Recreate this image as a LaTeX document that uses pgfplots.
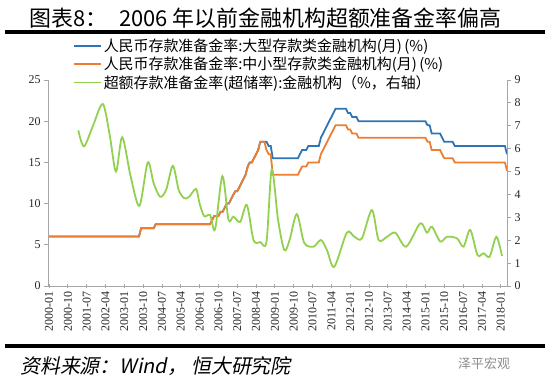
\documentclass[border=0pt]{standalone}
\usepackage{fontspec}
\setmainfont{Liberation Serif}
\newfontfamily\cjk{Noto Sans CJK SC}
\newfontfamily\cjkit[FakeSlant=0.2]{Noto Sans CJK SC}
\usepackage{pgfplots}
\pgfplotsset{compat=1.18}
\definecolor{cblue}{RGB}{46,117,182}
\definecolor{corange}{RGB}{237,125,49}
\definecolor{cgreen}{RGB}{146,208,80}
\definecolor{axgray}{RGB}{166,166,166}
\pgfplotsset{
  common/.style={
    at={(48bp,97bp)}, anchor=south west, scale only axis,
    width=459bp, height=206bp, xmin=-0.5, xmax=219,
    /pgf/number format/assume math mode=true,
    axis line style={axgray, line width=0.8pt},
    tick style={axgray, line width=0.8pt},
    major tick length=4bp,
    ticklabel style={font=\fontsize{12}{12}\selectfont, text=black!85},
  }
}
\begin{document}
\begin{tikzpicture}
\useasboundingbox (0,0) rectangle (550bp,383bp);
\fill (5bp,348.5bp) rectangle (545bp,352.5bp);
\fill (5bp,35bp) rectangle (545bp,39bp);
\node[anchor=base west, inner sep=0] at (29bp,356bp) {\cjk\fontsize{22}{22}\selectfont 图表8：\hspace{12bp}2006 年以前金融机构超额准备金率偏高};
\node[anchor=west, inner sep=0] at (20bp,17bp) {\cjkit\fontsize{20}{20}\selectfont 资料来源：Wind，\hspace{4bp}恒大研究院};
\node[anchor=west, inner sep=0, text=black!45] at (458bp,19bp) {\cjk\fontsize{13}{13}\selectfont 泽平宏观};

\begin{axis}[common,
  ymin=0, ymax=25,
  axis x line*=bottom, axis y line*=left,
  ytick={0,5,...,25},
  xtick={0,9,...,216},
  xticklabels={2000-01,2000-10,2001-07,2002-04,2003-01,2003-10,2004-07,2005-04,2006-01,2006-10,2007-07,2008-04,2009-01,2009-10,2010-07,2011-04,2012-01,2012-10,2013-07,2014-04,2015-01,2015-10,2016-07,2017-04,2018-01},
  xtick align=center, ytick align=outside,
  x tick label style={rotate=90, anchor=east},
  legend style={at={(0.054,1.21)}, anchor=north west, draw=none, fill=none,
    font=\cjk\fontsize{15}{18}\selectfont, cells={anchor=west}, inner sep=0pt, row sep=0pt},
  legend image code/.code={\draw[#1] (0bp,0bp) -- (27bp,0bp);},
]
\addplot[cblue, line width=1.8pt] coordinates {
(0,6) (43,6) (44,7) (50,7) (51,7.5) (77,7.5) (78,8) (79,8.5) (81,8.5) (82,9) (83,9) (84,9.5) (85,10) (86,10) (87,10.5) (88,11) (89,11.5) (90,11.5) (91,12) (92,12.5) (93,13) (94,13.5) (95,14.5) (96,15) (97,15) (98,15.5) (99,16) (100,16.5) (101,17.5) (104,17.5) (105,17) (106,17) (107,15.5) (119,15.5) (120,16) (121,16.5) (123,16.5) (124,17) (129,17) (130,18) (131,18.5) (132,19) (133,19.5) (134,20) (135,20.5) (136,21) (137,21.5) (142,21.5) (143,21) (144,21) (145,20.5) (147,20.5) (148,20) (180,20) (181,19.5) (182,19.5) (183,18.5) (187,18.5) (188,18) (189,17.5) (193,17.5) (194,17) (218,17) (219,16)
};
\addlegendentry{人民币存款准备金率:大型存款类金融机构(月)\,(\%)}
\addplot[corange, line width=1.8pt] coordinates {
(0,6) (43,6) (44,7) (50,7) (51,7.5) (77,7.5) (78,8) (79,8.5) (81,8.5) (82,9) (83,9) (84,9.5) (85,10) (86,10) (87,10.5) (88,11) (89,11.5) (90,11.5) (91,12) (92,12.5) (93,13) (94,13.5) (95,14.5) (96,15) (97,15) (98,15.5) (99,16) (100,16.5) (101,17.5) (103,17.5) (104,16.5) (105,16) (106,16) (107,13.5) (119,13.5) (120,14) (121,14.5) (123,14.5) (124,15) (129,15) (130,16) (131,16.5) (132,17) (133,17.5) (134,18) (135,18.5) (136,19) (137,19.5) (142,19.5) (143,19) (144,19) (145,18.5) (147,18.5) (148,18) (180,18) (181,17.5) (182,17.5) (183,16.5) (187,16.5) (188,16) (189,15.5) (193,15.5) (194,15) (218,15) (219,14)
};
\addlegendentry{人民币存款准备金率:中小型存款类金融机构(月)\,(\%)}
\addlegendimage{cgreen, line width=1.8pt}
\addlegendentry{超额存款准备金率(超储率):金融机构（\%，右轴）}
\end{axis}

\begin{axis}[common,
  ymin=0, ymax=9,
  axis x line=none, axis y line*=right,
  ytick={0,1,...,9}, ytick align=outside,
]
\addplot[cgreen, line width=1.8pt, smooth, tension=0.5] coordinates {
(14,6.8) (16.7,6.1) (21,7.0) (25.7,7.95) (29,6.6) (32,5.0) (35,6.5) (39,4.8) (43.2,3.5) (47.2,5.4) (50,4.5) (53.1,3.9) (56,4.2) (59.2,5.25) (62,4.2) (64.7,3.83) (67,3.9) (70.3,4.24) (72,3.6) (74.2,3.05) (77,3.1) (79.4,2.48) (82.9,4.8) (85.8,2.9) (88.2,3.03) (91.4,2.8) (94.6,3.54) (97.8,2.0) (101,1.92) (104,1.94) (106.5,5.1) (109.5,2.9) (112.5,1.57) (115,2.0) (118.5,3.14) (122,1.89) (126.5,1.72) (130,2.01) (132.9,1.57) (136.4,0.84) (142.4,2.33) (146,2.15) (149.6,2.08) (154.4,3.32) (157.6,2.01) (161.6,2.15) (165.6,2.33) (170.8,1.72) (177.5,2.74) (180.7,2.33) (183.1,2.59) (187.1,1.94) (190.3,2.15) (195.1,2.08) (198.2,1.72) (201.4,2.45) (204.9,1.35) (207.8,1.43) (210.7,1.28) (213.9,2.15) (216.6,1.31)
};
\end{axis}
\end{tikzpicture}
\end{document}
